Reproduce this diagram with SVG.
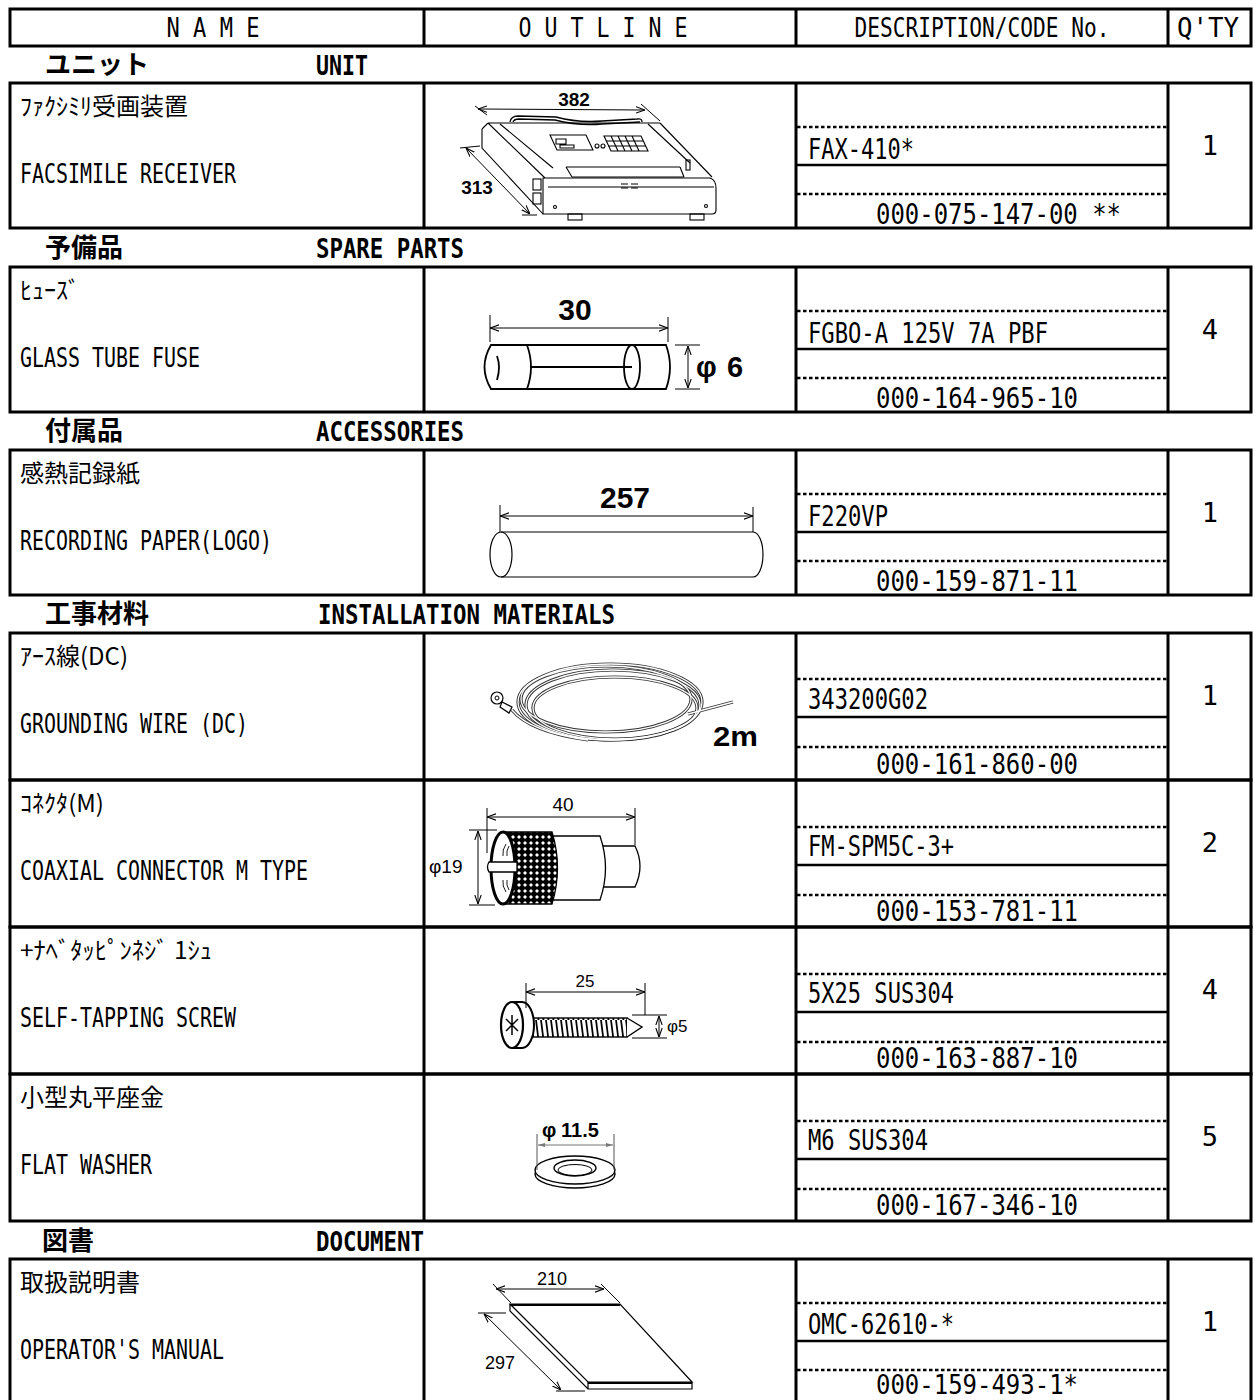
<svg xmlns="http://www.w3.org/2000/svg" width="1255" height="1400" viewBox="0 0 1255 1400">
<style>
.bx{fill:none;stroke:#000;stroke-width:3}
.ln{stroke:#000;stroke-width:3}
.sl{stroke:#000;stroke-width:2.5}
.dt{stroke:#000;stroke-width:2.5;stroke-dasharray:3.5 2.5}
.m{font-family:"DejaVu Sans Mono","Liberation Mono",monospace;fill:#000}
.hd{font-size:27px}
.se{font-size:27px;font-weight:bold}
.ne{font-size:27px}
.cd{font-size:28px}
.pn{font-size:29px}
.qt{font-size:27px;text-anchor:middle}
.j{font-family:"Noto Sans CJK JP","Noto Sans CJK SC",sans-serif;fill:#000}
.sj{font-size:26px;font-weight:bold}
.nj{font-size:24px}
.d{font-family:"Liberation Sans",Arial,sans-serif;fill:#000}
.db{font-weight:bold}
.dr{fill:none;stroke:#000;stroke-width:1.1}
.dim{fill:none;stroke:#000;stroke-width:1}
</style>
<defs>
<marker id="a" viewBox="0 0 10 10" refX="10" refY="5" markerWidth="9" markerHeight="9" markerUnits="userSpaceOnUse" orient="auto-start-reverse">
<path d="M0,1.5 L10,5 L0,8.5" fill="none" stroke="#000" stroke-width="1.2"/>
</marker>
<marker id="ag" viewBox="0 0 10 10" refX="10" refY="5" markerWidth="7" markerHeight="7" markerUnits="userSpaceOnUse" orient="auto-start-reverse">
<path d="M0,2 L10,5 L0,8 Z" fill="#777"/>
</marker>
<pattern id="knurl" width="6" height="6" patternUnits="userSpaceOnUse">
<rect width="6" height="6" fill="#000"/>
<path d="M3,1 L5,3 L3,5 L1,3 Z" fill="#fff"/>
</pattern>
<pattern id="thr" width="5" height="20" patternUnits="userSpaceOnUse">
<rect width="5" height="20" fill="#fff"/>
<path d="M1,0 L3.5,20" stroke="#000" stroke-width="1.8"/>
</pattern>
</defs>
<rect width="1255" height="1400" fill="#fff"/>

<g id="header">
<rect class="bx" x="10" y="9" width="1241" height="37"/>
<line class="ln" x1="424" y1="9" x2="424" y2="46"/>
<line class="ln" x1="796" y1="9" x2="796" y2="46"/>
<line class="ln" x1="1168" y1="9" x2="1168" y2="46"/>
<text class="m hd" x="213" y="37" text-anchor="middle" textLength="93" lengthAdjust="spacingAndGlyphs">N A M E</text>
<text class="m hd" x="603" y="37" text-anchor="middle" textLength="169" lengthAdjust="spacingAndGlyphs">O U T L I N E</text>
<text class="m hd" x="982" y="37" text-anchor="middle" textLength="255" lengthAdjust="spacingAndGlyphs">DESCRIPTION/CODE No.</text>
<text class="m hd" x="1208" y="37" text-anchor="middle" textLength="62" lengthAdjust="spacingAndGlyphs">Q'TY</text>
</g>

<g id="sections">
<text class="j sj" x="45" y="74" textLength="104" lengthAdjust="spacingAndGlyphs">ユニット</text>
<text class="m se" x="316" y="75" textLength="52" lengthAdjust="spacingAndGlyphs">UNIT</text>
<text class="j sj" x="45" y="257" textLength="78" lengthAdjust="spacingAndGlyphs">予備品</text>
<text class="m se" x="316" y="258" textLength="148" lengthAdjust="spacingAndGlyphs">SPARE PARTS</text>
<text class="j sj" x="45" y="440" textLength="78" lengthAdjust="spacingAndGlyphs">付属品</text>
<text class="m se" x="316" y="441" textLength="148" lengthAdjust="spacingAndGlyphs">ACCESSORIES</text>
<text class="j sj" x="45" y="623" textLength="104" lengthAdjust="spacingAndGlyphs">工事材料</text>
<text class="m se" x="318" y="624" textLength="297" lengthAdjust="spacingAndGlyphs">INSTALLATION MATERIALS</text>
<text class="j sj" x="42" y="1250" textLength="52" lengthAdjust="spacingAndGlyphs">図書</text>
<text class="m se" x="316" y="1251" textLength="108" lengthAdjust="spacingAndGlyphs">DOCUMENT</text>
</g>

<!-- ROW 1 UNIT -->
<g id="row-fax">
<rect class="bx" x="10" y="83" width="1241" height="145"/>
<line class="ln" x1="424" y1="83" x2="424" y2="228"/>
<line class="ln" x1="796" y1="83" x2="796" y2="228"/>
<line class="ln" x1="1168" y1="83" x2="1168" y2="228"/>
<line class="dt" x1="797" y1="127" x2="1167" y2="127"/>
<line class="sl" x1="797" y1="165" x2="1167" y2="165"/>
<line class="dt" x1="797" y1="194" x2="1167" y2="194"/>
<text class="j nj" x="20" y="115" textLength="168" lengthAdjust="spacingAndGlyphs">ﾌｧｸｼﾐﾘ受画装置</text>
<text class="m ne" x="20" y="183" textLength="216" lengthAdjust="spacingAndGlyphs">FACSIMILE RECEIVER</text>
<text class="m cd" x="808" y="159" textLength="106" lengthAdjust="spacingAndGlyphs">FAX-410*</text>
<text class="m pn" x="876" y="224" textLength="245" lengthAdjust="spacingAndGlyphs">000-075-147-00 **</text>
<text class="m qt" x="1210" y="155">1</text>
<g class="dr">
<path d="M488,123 L660,123 M482,129 L488,123 M482,129 L482,148 L543,214 M488,123 L545,178 M660,123 L712,177"/>
<path d="M543,178 L710,178 Q716,180 716,188 L716,210 Q716,214 712,214 L543,214 Z"/>
<path d="M548,187 L714,187 M500,124 L553,168 M648,124 L690,163"/>
<path d="M566,167 L680,167 M566,167 L572,177 M680,167 L684,177 M572,177 L684,177"/>
<path d="M550,135 L586,135 L593,150 L557,150 Z M556,139 h10 v5 h-10 z M560,145 h14 v3 h-14 z"/>
<path d="M604,136 L641,136 L648,151 L611,151 Z M606,141 L643,141 M608,146 L646,146 M611,136 L618,151 M618,136 L625,151 M625,136 L632,151 M632,136 L639,151"/>
<circle cx="597" cy="146" r="2"/><circle cx="603" cy="146" r="2"/>
<path d="M621,184 h7 M621,188 h7 M631,184 h7 M631,188 h7"/>
<circle cx="555" cy="207" r="1.5"/><circle cx="706" cy="206" r="1.5"/>
<rect x="568" y="214" width="14" height="6"/><rect x="690" y="214" width="14" height="6"/>
<path d="M510,122 Q511,116 518,116 L556,117 Q578,123 602,121 L637,119 Q642,118 642,122 M513,122 Q514,119 519,119 L555,120 Q578,126 602,124 L640,122" stroke-width="1.3"/>
<rect x="533" y="179" width="8" height="11"/><rect x="533" y="193" width="8" height="11"/>
<rect x="686" y="160" width="4" height="10"/>
</g>
<line class="dim" x1="478" y1="109" x2="645" y2="110" marker-start="url(#a)" marker-end="url(#a)"/>
<path class="dim" d="M475,106 L487,115 M641,104 L660,121"/>
<line class="dim" x1="466" y1="148" x2="530" y2="214" marker-start="url(#a)" marker-end="url(#a)"/>
<path class="dim" d="M460,148 L480,146 M522,215 L537,215"/>
<text class="d db" x="574" y="106" font-size="19" text-anchor="middle">382</text>
<text class="d db" x="477" y="194" font-size="19" text-anchor="middle">313</text>
</g>

<!-- ROW 2 FUSE -->
<g id="row-fuse">
<rect class="bx" x="10" y="267" width="1241" height="145"/>
<line class="ln" x1="424" y1="267" x2="424" y2="412"/>
<line class="ln" x1="796" y1="267" x2="796" y2="412"/>
<line class="ln" x1="1168" y1="267" x2="1168" y2="412"/>
<line class="dt" x1="797" y1="311" x2="1167" y2="311"/>
<line class="sl" x1="797" y1="349" x2="1167" y2="349"/>
<line class="dt" x1="797" y1="378" x2="1167" y2="378"/>
<text class="j nj" x="20" y="299" textLength="60" lengthAdjust="spacingAndGlyphs">ﾋｭｰｽﾞ</text>
<text class="m ne" x="20" y="367" textLength="180" lengthAdjust="spacingAndGlyphs">GLASS TUBE FUSE</text>
<text class="m cd" x="808" y="343" textLength="240" lengthAdjust="spacingAndGlyphs">FGBO-A 125V 7A PBF</text>
<text class="m pn" x="876" y="408" textLength="202" lengthAdjust="spacingAndGlyphs">000-164-965-10</text>
<text class="m qt" x="1210" y="339">4</text>
<g fill="none" stroke="#000" stroke-width="1.8">
<path d="M491,345 L527,345 Q535,367 527,389 L491,389 Q478,367 491,345 Z"/>
<path d="M527,345 L666,345 Q674,367 666,389 L527,389"/>
<ellipse cx="632" cy="367" rx="8" ry="22"/>
<path d="M530,367 L632,367 M497,356 Q501,367 497,380"/>
</g>
<line class="dim" x1="490" y1="328" x2="668" y2="328" marker-start="url(#a)" marker-end="url(#a)"/>
<path class="dim" d="M490,315 L490,342 M668,317 L668,342 M675,345 L700,345 M675,389 L700,389" stroke-width="1.4"/>
<line class="dim" x1="688" y1="346" x2="688" y2="388" marker-start="url(#a)" marker-end="url(#a)"/>
<text class="d db" x="575" y="320" font-size="30" text-anchor="middle">30</text>
<text class="d db" x="696" y="377" font-size="29">φ<tspan x="727">6</tspan></text>
</g>

<!-- ROW 3 PAPER -->
<g id="row-paper">
<rect class="bx" x="10" y="450" width="1241" height="145"/>
<line class="ln" x1="424" y1="450" x2="424" y2="595"/>
<line class="ln" x1="796" y1="450" x2="796" y2="595"/>
<line class="ln" x1="1168" y1="450" x2="1168" y2="595"/>
<line class="dt" x1="797" y1="494" x2="1167" y2="494"/>
<line class="sl" x1="797" y1="532" x2="1167" y2="532"/>
<line class="dt" x1="797" y1="561" x2="1167" y2="561"/>
<text class="j nj" x="20" y="482" textLength="120" lengthAdjust="spacingAndGlyphs">感熱記録紙</text>
<text class="m ne" x="20" y="550" textLength="252" lengthAdjust="spacingAndGlyphs">RECORDING PAPER(LOGO)</text>
<text class="m cd" x="808" y="526" textLength="80" lengthAdjust="spacingAndGlyphs">F220VP</text>
<text class="m pn" x="876" y="591" textLength="202" lengthAdjust="spacingAndGlyphs">000-159-871-11</text>
<text class="m qt" x="1210" y="522">1</text>
<g fill="none" stroke="#000" stroke-width="1.2">
<ellipse cx="501" cy="554.5" rx="11" ry="22.5"/>
<path d="M501,532 L753,532 A10,22.5 0 0 1 753,577 L501,577"/>
</g>
<line class="dim" x1="500" y1="516" x2="753" y2="516" marker-start="url(#a)" marker-end="url(#a)"/>
<path class="dim" d="M500,505 L500,532 M753,507 L753,532"/>
<text class="d db" x="625" y="508" font-size="30" text-anchor="middle">257</text>
</g>

<!-- ROW 4 GROUNDING WIRE -->
<g id="row-wire">
<rect class="bx" x="10" y="633" width="1241" height="147"/>
<line class="ln" x1="424" y1="633" x2="424" y2="780"/>
<line class="ln" x1="796" y1="633" x2="796" y2="780"/>
<line class="ln" x1="1168" y1="633" x2="1168" y2="780"/>
<line class="dt" x1="797" y1="679" x2="1167" y2="679"/>
<line class="sl" x1="797" y1="717" x2="1167" y2="717"/>
<line class="dt" x1="797" y1="747" x2="1167" y2="747"/>
<text class="j nj" x="20" y="665" textLength="108" lengthAdjust="spacingAndGlyphs">ｱｰｽ線(DC)</text>
<text class="m ne" x="20" y="733" textLength="228" lengthAdjust="spacingAndGlyphs">GROUNDING WIRE (DC)</text>
<text class="m cd" x="808" y="709" textLength="120" lengthAdjust="spacingAndGlyphs">343200G02</text>
<text class="m pn" x="876" y="774" textLength="202" lengthAdjust="spacingAndGlyphs">000-161-860-00</text>
<text class="m qt" x="1210" y="705">1</text>
<g fill="none">
<g stroke="#333" stroke-width="3.2">
<ellipse cx="610" cy="702" rx="92" ry="38"/>
<ellipse cx="613" cy="705" rx="87" ry="35"/>
<ellipse cx="606" cy="699" rx="85" ry="33"/>
<ellipse cx="615" cy="708" rx="82" ry="31"/>
<path d="M512,710 Q530,732 588,740"/>
<path d="M688,714 L733,702"/>
</g>
<g stroke="#fff" stroke-width="1.3">
<ellipse cx="610" cy="702" rx="92" ry="38"/>
<ellipse cx="613" cy="705" rx="87" ry="35"/>
<ellipse cx="606" cy="699" rx="85" ry="33"/>
<ellipse cx="615" cy="708" rx="82" ry="31"/>
<path d="M512,710 Q530,732 588,740"/>
<path d="M688,714 L733,702"/>
</g>
<circle cx="497" cy="698" r="6" fill="#fff" stroke="#000" stroke-width="1.2"/>
<circle cx="497" cy="698" r="2" stroke="#000" stroke-width="1"/>
<path d="M502,702 L512,707 L509,713 L500,707 Z" fill="#fff" stroke="#000" stroke-width="1.2"/>
</g>
<text class="d db" x="713" y="746" font-size="28" textLength="45" lengthAdjust="spacingAndGlyphs">2m</text>
</g>

<!-- ROW 5 CONNECTOR -->
<g id="row-connector">
<rect class="bx" x="10" y="780" width="1241" height="147"/>
<line class="ln" x1="424" y1="780" x2="424" y2="927"/>
<line class="ln" x1="796" y1="780" x2="796" y2="927"/>
<line class="ln" x1="1168" y1="780" x2="1168" y2="927"/>
<line class="dt" x1="797" y1="827" x2="1167" y2="827"/>
<line class="sl" x1="797" y1="865" x2="1167" y2="865"/>
<line class="dt" x1="797" y1="895" x2="1167" y2="895"/>
<text class="j nj" x="20" y="812" textLength="84" lengthAdjust="spacingAndGlyphs">ｺﾈｸﾀ(M)</text>
<text class="m ne" x="20" y="880" textLength="288" lengthAdjust="spacingAndGlyphs">COAXIAL CONNECTOR M TYPE</text>
<text class="m cd" x="808" y="856" textLength="146" lengthAdjust="spacingAndGlyphs">FM-SPM5C-3+</text>
<text class="m pn" x="876" y="921" textLength="202" lengthAdjust="spacingAndGlyphs">000-153-781-11</text>
<text class="m qt" x="1210" y="852">2</text>
<g stroke="#000" stroke-width="1.3">
<path d="M603,846 L635,846 Q645,866 635,887 L603,887" fill="#fff"/>
<path d="M553,836 L600,836 Q611,868 600,900 L553,900" fill="#fff"/>
<path d="M503,832 L552,832 Q563,868 552,904 L503,904 Z" fill="url(#knurl)"/>
<ellipse cx="503" cy="868" rx="12" ry="36" fill="#fff" stroke-width="3"/>
<path d="M506,844 Q502,850 503,856 M509,846 Q506,851 507,856 M506,892 Q502,886 503,880 M509,890 Q506,885 507,880" fill="none" stroke-width="0.9"/>
<path d="M489,862 L517,862 L517,872 L489,872 Q486,867 489,862 Z" fill="#fff"/>
</g>
<line class="dim" x1="487" y1="817" x2="635" y2="817" marker-start="url(#a)" marker-end="url(#a)"/>
<path class="dim" d="M487,808 L487,853 M635,808 L635,845 M469,830 L497,830 M469,905 L495,905"/>
<line class="dim" x1="478" y1="831" x2="478" y2="904" marker-start="url(#a)" marker-end="url(#a)"/>
<text class="d" x="563" y="811" font-size="19" text-anchor="middle">40</text>
<text class="d" x="429" y="873" font-size="19">φ19</text>
</g>

<!-- ROW 6 SCREW -->
<g id="row-screw">
<rect class="bx" x="10" y="927" width="1241" height="147"/>
<line class="ln" x1="424" y1="927" x2="424" y2="1074"/>
<line class="ln" x1="796" y1="927" x2="796" y2="1074"/>
<line class="ln" x1="1168" y1="927" x2="1168" y2="1074"/>
<line class="dt" x1="797" y1="974" x2="1167" y2="974"/>
<line class="sl" x1="797" y1="1012" x2="1167" y2="1012"/>
<line class="dt" x1="797" y1="1042" x2="1167" y2="1042"/>
<text class="j nj" x="20" y="959" textLength="192" lengthAdjust="spacingAndGlyphs">+ﾅﾍﾞﾀｯﾋﾟﾝﾈｼﾞ 1ｼｭ</text>
<text class="m ne" x="20" y="1027" textLength="216" lengthAdjust="spacingAndGlyphs">SELF-TAPPING SCREW</text>
<text class="m cd" x="808" y="1003" textLength="146" lengthAdjust="spacingAndGlyphs">5X25 SUS304</text>
<text class="m pn" x="876" y="1068" textLength="202" lengthAdjust="spacingAndGlyphs">000-163-887-10</text>
<text class="m qt" x="1210" y="999">4</text>
<g stroke="#000">
<rect x="529" y="1018" width="98" height="19" fill="url(#thr)" stroke-width="1.4"/>
<path d="M627,1018 L642,1027 L627,1037" fill="#fff" stroke-width="1.4"/>
<path d="M512,1002 L522,1002 A12,23 0 0 1 522,1048 L512,1048" fill="#fff" stroke-width="2"/>
<ellipse cx="512" cy="1025" rx="11" ry="23" fill="#fff" stroke-width="2.2"/>
<path d="M506,1019 L518,1031 M518,1019 L506,1031 M512,1015 L512,1035" fill="none" stroke-width="1.5"/>
</g>
<line class="dim" x1="526" y1="992" x2="645" y2="992" marker-start="url(#a)" marker-end="url(#a)"/>
<path class="dim" d="M526,983 L526,1008 M645,983 L645,1015 M632,1015 L667,1015 M632,1038 L667,1038"/>
<line class="dim" x1="659" y1="1016" x2="659" y2="1037" marker-start="url(#a)" marker-end="url(#a)"/>
<text class="d" x="585" y="987" font-size="17" text-anchor="middle">25</text>
<text class="d" x="667" y="1032" font-size="17">φ5</text>
</g>

<!-- ROW 7 WASHER -->
<g id="row-washer">
<rect class="bx" x="10" y="1074" width="1241" height="147"/>
<line class="ln" x1="424" y1="1074" x2="424" y2="1221"/>
<line class="ln" x1="796" y1="1074" x2="796" y2="1221"/>
<line class="ln" x1="1168" y1="1074" x2="1168" y2="1221"/>
<line class="dt" x1="797" y1="1121" x2="1167" y2="1121"/>
<line class="sl" x1="797" y1="1159" x2="1167" y2="1159"/>
<line class="dt" x1="797" y1="1189" x2="1167" y2="1189"/>
<text class="j nj" x="20" y="1106" textLength="144" lengthAdjust="spacingAndGlyphs">小型丸平座金</text>
<text class="m ne" x="20" y="1174" textLength="132" lengthAdjust="spacingAndGlyphs">FLAT WASHER</text>
<text class="m cd" x="808" y="1150" textLength="120" lengthAdjust="spacingAndGlyphs">M6 SUS304</text>
<text class="m pn" x="876" y="1215" textLength="202" lengthAdjust="spacingAndGlyphs">000-167-346-10</text>
<text class="m qt" x="1210" y="1146">5</text>
<g stroke="#000" stroke-width="1.4">
<ellipse cx="575" cy="1174" rx="40" ry="14" fill="#fff"/>
<ellipse cx="575" cy="1170" rx="40" ry="14" fill="#fff"/>
<ellipse cx="575" cy="1168" rx="21" ry="8" fill="#fff"/>
<ellipse cx="575" cy="1170" rx="17" ry="5.5" fill="none" stroke-width="1"/>
</g>
<line x1="538" y1="1145" x2="613" y2="1145" stroke="#777" stroke-width="1.2" marker-start="url(#ag)" marker-end="url(#ag)"/>
<path d="M537,1134 L537,1170 M614,1134 L614,1170" stroke="#555" stroke-width="1" fill="none"/>
<text class="d db" x="542" y="1137" font-size="20">φ<tspan x="561">11.5</tspan></text>
</g>

<!-- ROW 8 MANUAL -->
<g id="row-manual">
<rect class="bx" x="10" y="1259" width="1241" height="150"/>
<line class="ln" x1="424" y1="1259" x2="424" y2="1400"/>
<line class="ln" x1="796" y1="1259" x2="796" y2="1400"/>
<line class="ln" x1="1168" y1="1259" x2="1168" y2="1400"/>
<line class="dt" x1="797" y1="1303" x2="1167" y2="1303"/>
<line class="sl" x1="797" y1="1341" x2="1167" y2="1341"/>
<line class="dt" x1="797" y1="1370" x2="1167" y2="1370"/>
<text class="j nj" x="20" y="1291" textLength="120" lengthAdjust="spacingAndGlyphs">取扱説明書</text>
<text class="m ne" x="20" y="1359" textLength="204" lengthAdjust="spacingAndGlyphs">OPERATOR'S MANUAL</text>
<text class="m cd" x="808" y="1334" textLength="146" lengthAdjust="spacingAndGlyphs">OMC-62610-*</text>
<text class="m" x="876" y="1394" font-size="26" textLength="202" lengthAdjust="spacingAndGlyphs">000-159-493-1*</text>
<text class="m qt" x="1210" y="1331">1</text>
<g fill="none" stroke="#000" stroke-width="1.2">
<path d="M510,1304 L620,1304 L692,1382 L588,1382 Z" fill="#fff"/>
<path d="M510,1304 L510,1311 L588,1389 L692,1389 L692,1382 M588,1382 L588,1389"/>
<path d="M510,1305 L620,1305 M588,1383 L692,1383" stroke-width="2"/>
</g>
<line class="dim" x1="496" y1="1289" x2="604" y2="1289" marker-start="url(#a)" marker-end="url(#a)"/>
<path class="dim" d="M493,1284 L511,1303 M601,1284 L620,1303 M478,1313 L506,1313 M556,1391 L585,1391"/>
<line class="dim" x1="484" y1="1314" x2="561" y2="1390" marker-start="url(#a)" marker-end="url(#a)"/>
<text class="d" x="552" y="1285" font-size="18" text-anchor="middle">210</text>
<text class="d" x="500" y="1369" font-size="18" text-anchor="middle">297</text>
</g>
</svg>
